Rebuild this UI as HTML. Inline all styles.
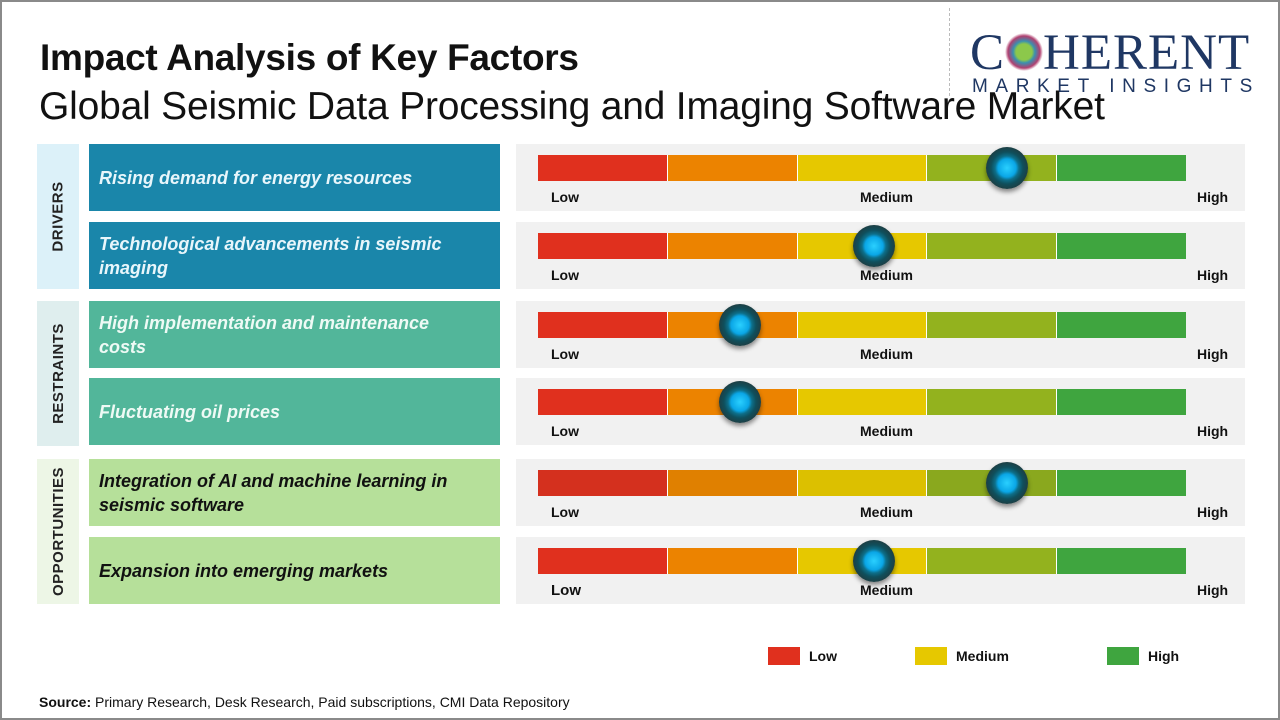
<!DOCTYPE html>
<html><head><meta charset="utf-8"><style>
*{margin:0;padding:0;box-sizing:border-box}
body{width:1280px;height:720px;position:relative;background:#fff;font-family:"Liberation Sans","DejaVu Sans",sans-serif;overflow:hidden}
.frame{position:absolute;left:0;top:0;width:1280px;height:720px;border:2px solid #8a8a8a}
.abs{position:absolute}
h1{position:absolute;left:40px;top:37px;font-size:37px;font-weight:bold;color:#111;letter-spacing:-0.3px;white-space:nowrap}
h2{position:absolute;left:39px;top:85px;font-size:39px;font-weight:normal;color:#111;letter-spacing:-0.2px;white-space:nowrap}
.cat{position:absolute;left:37px;width:42px;display:flex;align-items:center;justify-content:center}
.cat span{transform:rotate(-90deg);white-space:nowrap;font-weight:bold;font-size:15px;color:#222;letter-spacing:0.5px}
.fac{position:absolute;left:89px;width:411px;height:67px;display:flex;align-items:center;padding:0 10px;font-style:italic;font-weight:bold;font-size:18px;line-height:24px}
.fac span{max-width:370px}
.panel{position:absolute;left:516px;width:729px;height:67px;background:#f1f1f1}
.bar{position:absolute;left:22px;top:11px;height:26px;width:648px;display:flex}
.bar div{flex:1;border-right:1.5px solid #fff}
.bar div:last-child{border-right:none}
.lbl{position:absolute;top:45px;font-size:14px;font-weight:bold;color:#111}
.knob{position:absolute;top:3px;width:42px;height:42px;border-radius:50%;background:radial-gradient(circle at 50% 50%,#2ad0ff 0,#0aa6e6 9px,#0d6f8a 12px,#0f4f5c 16px,#1d3f44 21px);box-shadow:0 3px 5px rgba(0,0,0,.45)}
.leg{position:absolute;top:647px;width:32px;height:18px}
.legt{position:absolute;top:648px;font-size:14px;font-weight:bold;color:#111}
</style></head><body>
<div class="frame"></div>
<div class="abs" style="left:949px;top:8px;height:88px;border-left:1.5px dashed #bbb"></div>
<div class="abs" style="left:970px;top:28px;font-family:'Liberation Serif',serif;font-size:51px;color:#1f3763;letter-spacing:1px;line-height:50px;white-space:nowrap">C<span style="display:inline-block;width:38px;height:38px;border-radius:50%;background:radial-gradient(circle,#8cc84b 0,#8cc84b 8px,#3a8fb0 11px,#b04070 16px,#fff 19px);vertical-align:-2px"></span>HERENT</div>
<div class="abs" style="left:972px;top:76px;font-size:19px;color:#1f3763;letter-spacing:7.6px;white-space:nowrap">MARKET INSIGHTS</div>
<h1>Impact Analysis of Key Factors</h1>
<h2>Global Seismic Data Processing and Imaging Software Market</h2>

<div class="cat" style="top:144px;height:145px;background:#dcf1f9"><span>DRIVERS</span></div>
<div class="cat" style="top:301px;height:145px;background:#dfeeee"><span>RESTRAINTS</span></div>
<div class="cat" style="top:459px;height:145px;background:#edf6e6"><span>OPPORTUNITIES</span></div>

<div class="fac" style="top:144px;background:#1a86aa;color:#e8f6fb"><span>Rising demand for energy resources</span></div>
<div class="fac" style="top:222px;background:#1a86aa;color:#e8f6fb"><span>Technological advancements in seismic imaging</span></div>
<div class="fac" style="top:301px;background:#52b69a;color:#eefaf5"><span>High implementation and maintenance costs</span></div>
<div class="fac" style="top:378px;background:#52b69a;color:#eefaf5"><span>Fluctuating oil prices</span></div>
<div class="fac" style="top:459px;background:#b6e09a;color:#111"><span>Integration of AI and machine learning in seismic software</span></div>
<div class="fac" style="top:537px;background:#b6e09a;color:#111"><span>Expansion into emerging markets</span></div>

<div class="panel" style="top:144px"><div class="bar"><div style="background:#e0301e"></div><div style="background:#ec8300"></div><div style="background:#e6c800"></div><div style="background:#93b21e"></div><div style="background:#3fa53f"></div></div><span class="lbl" style="left:35px">Low</span><span class="lbl" style="left:344px">Medium</span><span class="lbl" style="left:681px">High</span><div class="knob" style="left:470px"></div></div>
<div class="panel" style="top:222px"><div class="bar"><div style="background:#e0301e"></div><div style="background:#ec8300"></div><div style="background:#e6c800"></div><div style="background:#93b21e"></div><div style="background:#3fa53f"></div></div><span class="lbl" style="left:35px">Low</span><span class="lbl" style="left:344px">Medium</span><span class="lbl" style="left:681px">High</span><div class="knob" style="left:337px"></div></div>
<div class="panel" style="top:301px"><div class="bar"><div style="background:#e0301e"></div><div style="background:#ec8300"></div><div style="background:#e6c800"></div><div style="background:#93b21e"></div><div style="background:#3fa53f"></div></div><span class="lbl" style="left:35px">Low</span><span class="lbl" style="left:344px">Medium</span><span class="lbl" style="left:681px">High</span><div class="knob" style="left:203px"></div></div>
<div class="panel" style="top:378px"><div class="bar"><div style="background:#e0301e"></div><div style="background:#ec8300"></div><div style="background:#e6c800"></div><div style="background:#93b21e"></div><div style="background:#3fa53f"></div></div><span class="lbl" style="left:35px">Low</span><span class="lbl" style="left:344px">Medium</span><span class="lbl" style="left:681px">High</span><div class="knob" style="left:203px"></div></div>
<div class="panel" style="top:459px"><div class="bar"><div style="background:#d4301e"></div><div style="background:#e08000"></div><div style="background:#dcc000"></div><div style="background:#8aa81e"></div><div style="background:#3fa53f"></div></div><span class="lbl" style="left:35px">Low</span><span class="lbl" style="left:344px">Medium</span><span class="lbl" style="left:681px">High</span><div class="knob" style="left:470px"></div></div>
<div class="panel" style="top:537px"><div class="bar"><div style="background:#e0301e"></div><div style="background:#ec8300"></div><div style="background:#e6c800"></div><div style="background:#93b21e"></div><div style="background:#3fa53f"></div></div><span class="lbl" style="left:35px;font-size:15px">Low</span><span class="lbl" style="left:344px">Medium</span><span class="lbl" style="left:681px">High</span><div class="knob" style="left:337px"></div></div>

<div class="leg" style="left:768px;background:#e0301e"></div><span class="legt" style="left:809px">Low</span>
<div class="leg" style="left:915px;background:#e6c800"></div><span class="legt" style="left:956px">Medium</span>
<div class="leg" style="left:1107px;background:#3fa53f"></div><span class="legt" style="left:1148px">High</span>

<div class="abs" style="left:39px;top:694px;font-size:14px;color:#111;white-space:nowrap"><b>Source:</b> Primary Research, Desk Research, Paid subscriptions, CMI Data Repository</div>
</body></html>
